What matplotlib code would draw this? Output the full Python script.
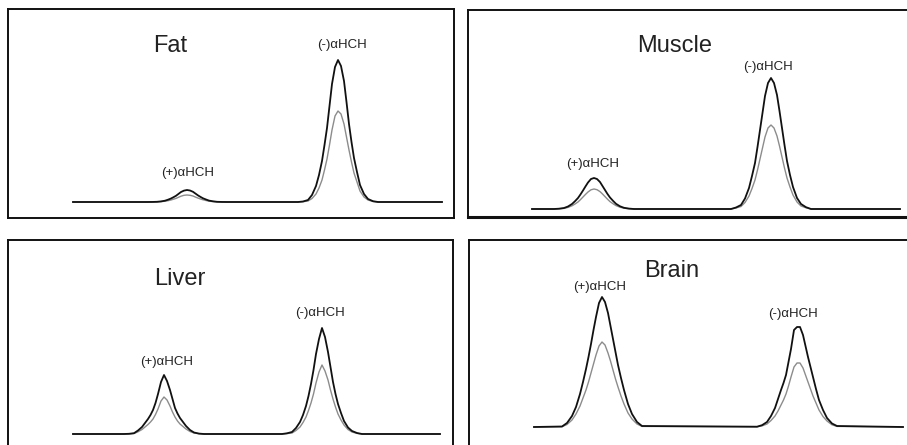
import matplotlib.pyplot as plt
import numpy as np

# ---- data: chiral GC traces of alpha-HCH (two runs per tissue) ----
# sample offsets around each peak apex (retention units)
offsets = [-4.0, -3.5, -3.0, -2.6, -2.2, -1.9, -1.6, -1.35, -1.1, -0.85, -0.6, -0.3, 0.0,
           0.3, 0.6, 0.85, 1.1, 1.35, 1.6, 1.9, 2.2, 2.6, 3.0, 3.5, 4.0]

tissues = ["Fat", "Muscle", "Liver", "Brain"]
run_end = [36.9, 36.8, 36.7, 36.9]

# apex retention of (+)alpha-HCH and (-)alpha-HCH
rt_plus = [11.4, 6.2, 9.1, 6.8]
rt_minus = [26.5, 23.9, 24.9, 26.3]

# detector response, black trace / grey trace
fat_plus_black = [0, 0.05, 0.2, 0.6, 1.3, 2.3, 3.5, 4.8, 6.2, 8.1, 10, 11.4, 12, 11.5, 10.2, 8.4, 6.6, 5.1, 3.7, 2.5, 1.4, 0.7, 0.2, 0.05, 0]
fat_plus_grey = [0, 0, 0.1, 0.35, 0.8, 1.3, 2, 2.8, 3.6, 4.7, 5.8, 6.7, 7, 6.7, 6, 4.9, 3.9, 3, 2.2, 1.5, 0.8, 0.4, 0.1, 0, 0]
fat_minus_black = [0, 0.5, 2, 7, 16, 27, 41, 57, 74, 96, 118, 135, 142, 136, 121, 100, 78, 60, 44, 30, 17, 8, 3, 0.8, 0]
fat_minus_grey = [0, 0.3, 1, 3.5, 8, 14, 22, 32, 43, 57, 72, 86, 91, 88, 78, 65, 52, 40, 29, 20, 11, 5, 2, 0.5, 0]

muscle_plus_black = [0, 0.3, 1, 2.5, 5, 7.8, 11, 14.6, 18.5, 22.6, 26.5, 30, 31, 30, 27, 23, 19, 15, 11.5, 8.2, 5.2, 2.7, 1.2, 0.4, 0]
muscle_plus_grey = [0, 0.2, 0.6, 1.6, 3.2, 5, 7, 9.4, 12, 14.6, 17, 19.2, 20, 19.3, 17.4, 15, 12.4, 9.8, 7.4, 5.3, 3.4, 1.8, 0.8, 0.25, 0]
muscle_minus_black = [0, 1.5, 4, 10.5, 21, 33, 46, 62, 79, 96, 113, 126, 131, 126, 114, 98, 81, 64, 48, 34, 22, 11, 5, 1.8, 0]
muscle_minus_grey = [0, 1, 2.5, 6.5, 13, 20.5, 29, 39, 50, 61, 72, 81, 84, 81, 73, 63, 52, 41, 31, 22, 14, 7, 3, 1.2, 0]

liver_plus_black = [0, 0.2, 0.8, 3.5, 7, 11, 15, 19, 24, 31, 40, 52, 59, 53, 44, 35, 26, 20.5, 16, 12, 8, 4, 1.5, 0.4, 0]
liver_plus_grey = [0, 0.1, 0.5, 2.2, 4.5, 7, 9.5, 12, 15, 19.5, 25, 33, 37, 34, 28, 22, 17, 13, 10, 7.5, 5, 2.5, 1, 0.3, 0]
liver_minus_black = [0, 0.7, 2, 6, 12, 19, 28, 38, 50, 64, 80, 95, 106, 97, 82, 67, 52, 40, 30, 21, 13, 6.5, 3, 1, 0]
liver_minus_grey = [0, 0.4, 1, 3.5, 7, 11.5, 17, 23.5, 31, 40, 51, 62, 69, 63, 54, 44, 35, 27, 20, 14, 9, 4.5, 2, 0.6, 0]

brain_plus_black = [0.5, 4, 11, 20, 33, 45, 58, 70, 83, 97, 110, 124, 130, 125, 114, 101, 88, 75, 62, 49, 37, 23, 13, 5, 1]
brain_plus_grey = [0.3, 2.5, 7, 13, 21, 29, 37, 45, 54, 63, 72, 81, 85, 82, 74, 66, 57, 48, 40, 31, 23, 14, 8, 3, 0.6]
brain_minus_black = [0.3, 1.8, 5, 11, 19, 28, 37, 44, 52, 65, 78, 97, 100, 100, 92, 81, 70, 60, 50, 38, 27, 17, 9, 3.5, 1]
brain_minus_grey = [0.2, 1.1, 3, 6.5, 11, 16, 22, 27, 33, 41, 50, 60, 64, 64, 59, 52, 45, 38, 31, 24, 17, 10.5, 6, 2.2, 0.6]

plus_black = [fat_plus_black, muscle_plus_black, liver_plus_black, brain_plus_black]
plus_grey = [fat_plus_grey, muscle_plus_grey, liver_plus_grey, brain_plus_grey]
minus_black = [fat_minus_black, muscle_minus_black, liver_minus_black, brain_minus_black]
minus_grey = [fat_minus_grey, muscle_minus_grey, liver_minus_grey, brain_minus_grey]

# ---- layout (pixels of a 907x445 canvas) ----
W, H = 907, 445
# box left, right, top, bottom / trace start px / baseline px
BOXES = [(8, 454, 9, 218), (468, 912, 10, 217), (8, 453, 240, 452), (469, 912, 240, 452)]
TRACE_X0 = [73, 532, 73, 534]
BASELINE = [202, 209, 434, 427]
PX_PER_UNIT = 10.0

# label anchors (retention, height above baseline)
TITLE_POS = [(9.7, 156), (14.3, 163), (10.7, 155), (13.8, 156)]
PLUS_LABEL_POS = [(11.5, 29), (6.1, 45), (9.4, 72), (6.6, 140)]
MINUS_LABEL_POS = [(26.9, 157), (23.6, 142), (24.7, 121), (25.9, 113)]

FONT = "Liberation Sans"


def BuildTrace(rt1, y1, rt2, y2, end):
    t = [0.0] + [rt1 + o for o in offsets] + [rt2 + o for o in offsets] + [end]
    y = [0.0] + list(y1) + list(y2) + [0.0]
    return np.array(t), np.array(y)


def SetupBox(fig, i):
    left, right, top, bottom = BOXES[i]
    ax = fig.add_axes([left / W, 1 - bottom / H, (right - left) / W, (bottom - top) / H])
    x0 = TRACE_X0[i]
    ax.set_xlim((left - x0) / PX_PER_UNIT, (right - x0) / PX_PER_UNIT)
    ax.set_ylim(-(bottom - BASELINE[i]), BASELINE[i] - top)
    ax.set_xticks([])
    ax.set_yticks([])
    for s in ax.spines.values():
        s.set_linewidth(1.4)
        s.set_color("#111111")
    if i == 1:
        ax.spines["bottom"].set_linewidth(2.2)
    return ax


fig = plt.figure(figsize=(W / 100, H / 100), dpi=100)

for i in range(4):
    ax = SetupBox(fig, i)

    tg, yg = BuildTrace(rt_plus[i], plus_grey[i], rt_minus[i], minus_grey[i], run_end[i])
    tb, yb = BuildTrace(rt_plus[i], plus_black[i], rt_minus[i], minus_black[i], run_end[i])
    ax.plot(tg, yg, color="#8c8c8c", lw=1.0, solid_joinstyle="round")
    ax.plot(tb, yb, color="#111111", lw=1.3, solid_joinstyle="round")

    ax.text(*TITLE_POS[i], tissues[i], fontsize=17, family=FONT, ha="center", va="center", color="#222222")
    ax.text(*PLUS_LABEL_POS[i], "(+)αHCH", fontsize=9.5, family=FONT, ha="center", va="center", color="#222222")
    ax.text(*MINUS_LABEL_POS[i], "(-)αHCH", fontsize=9.5, family=FONT, ha="center", va="center", color="#222222")

fig.savefig("out.png", dpi=100)
